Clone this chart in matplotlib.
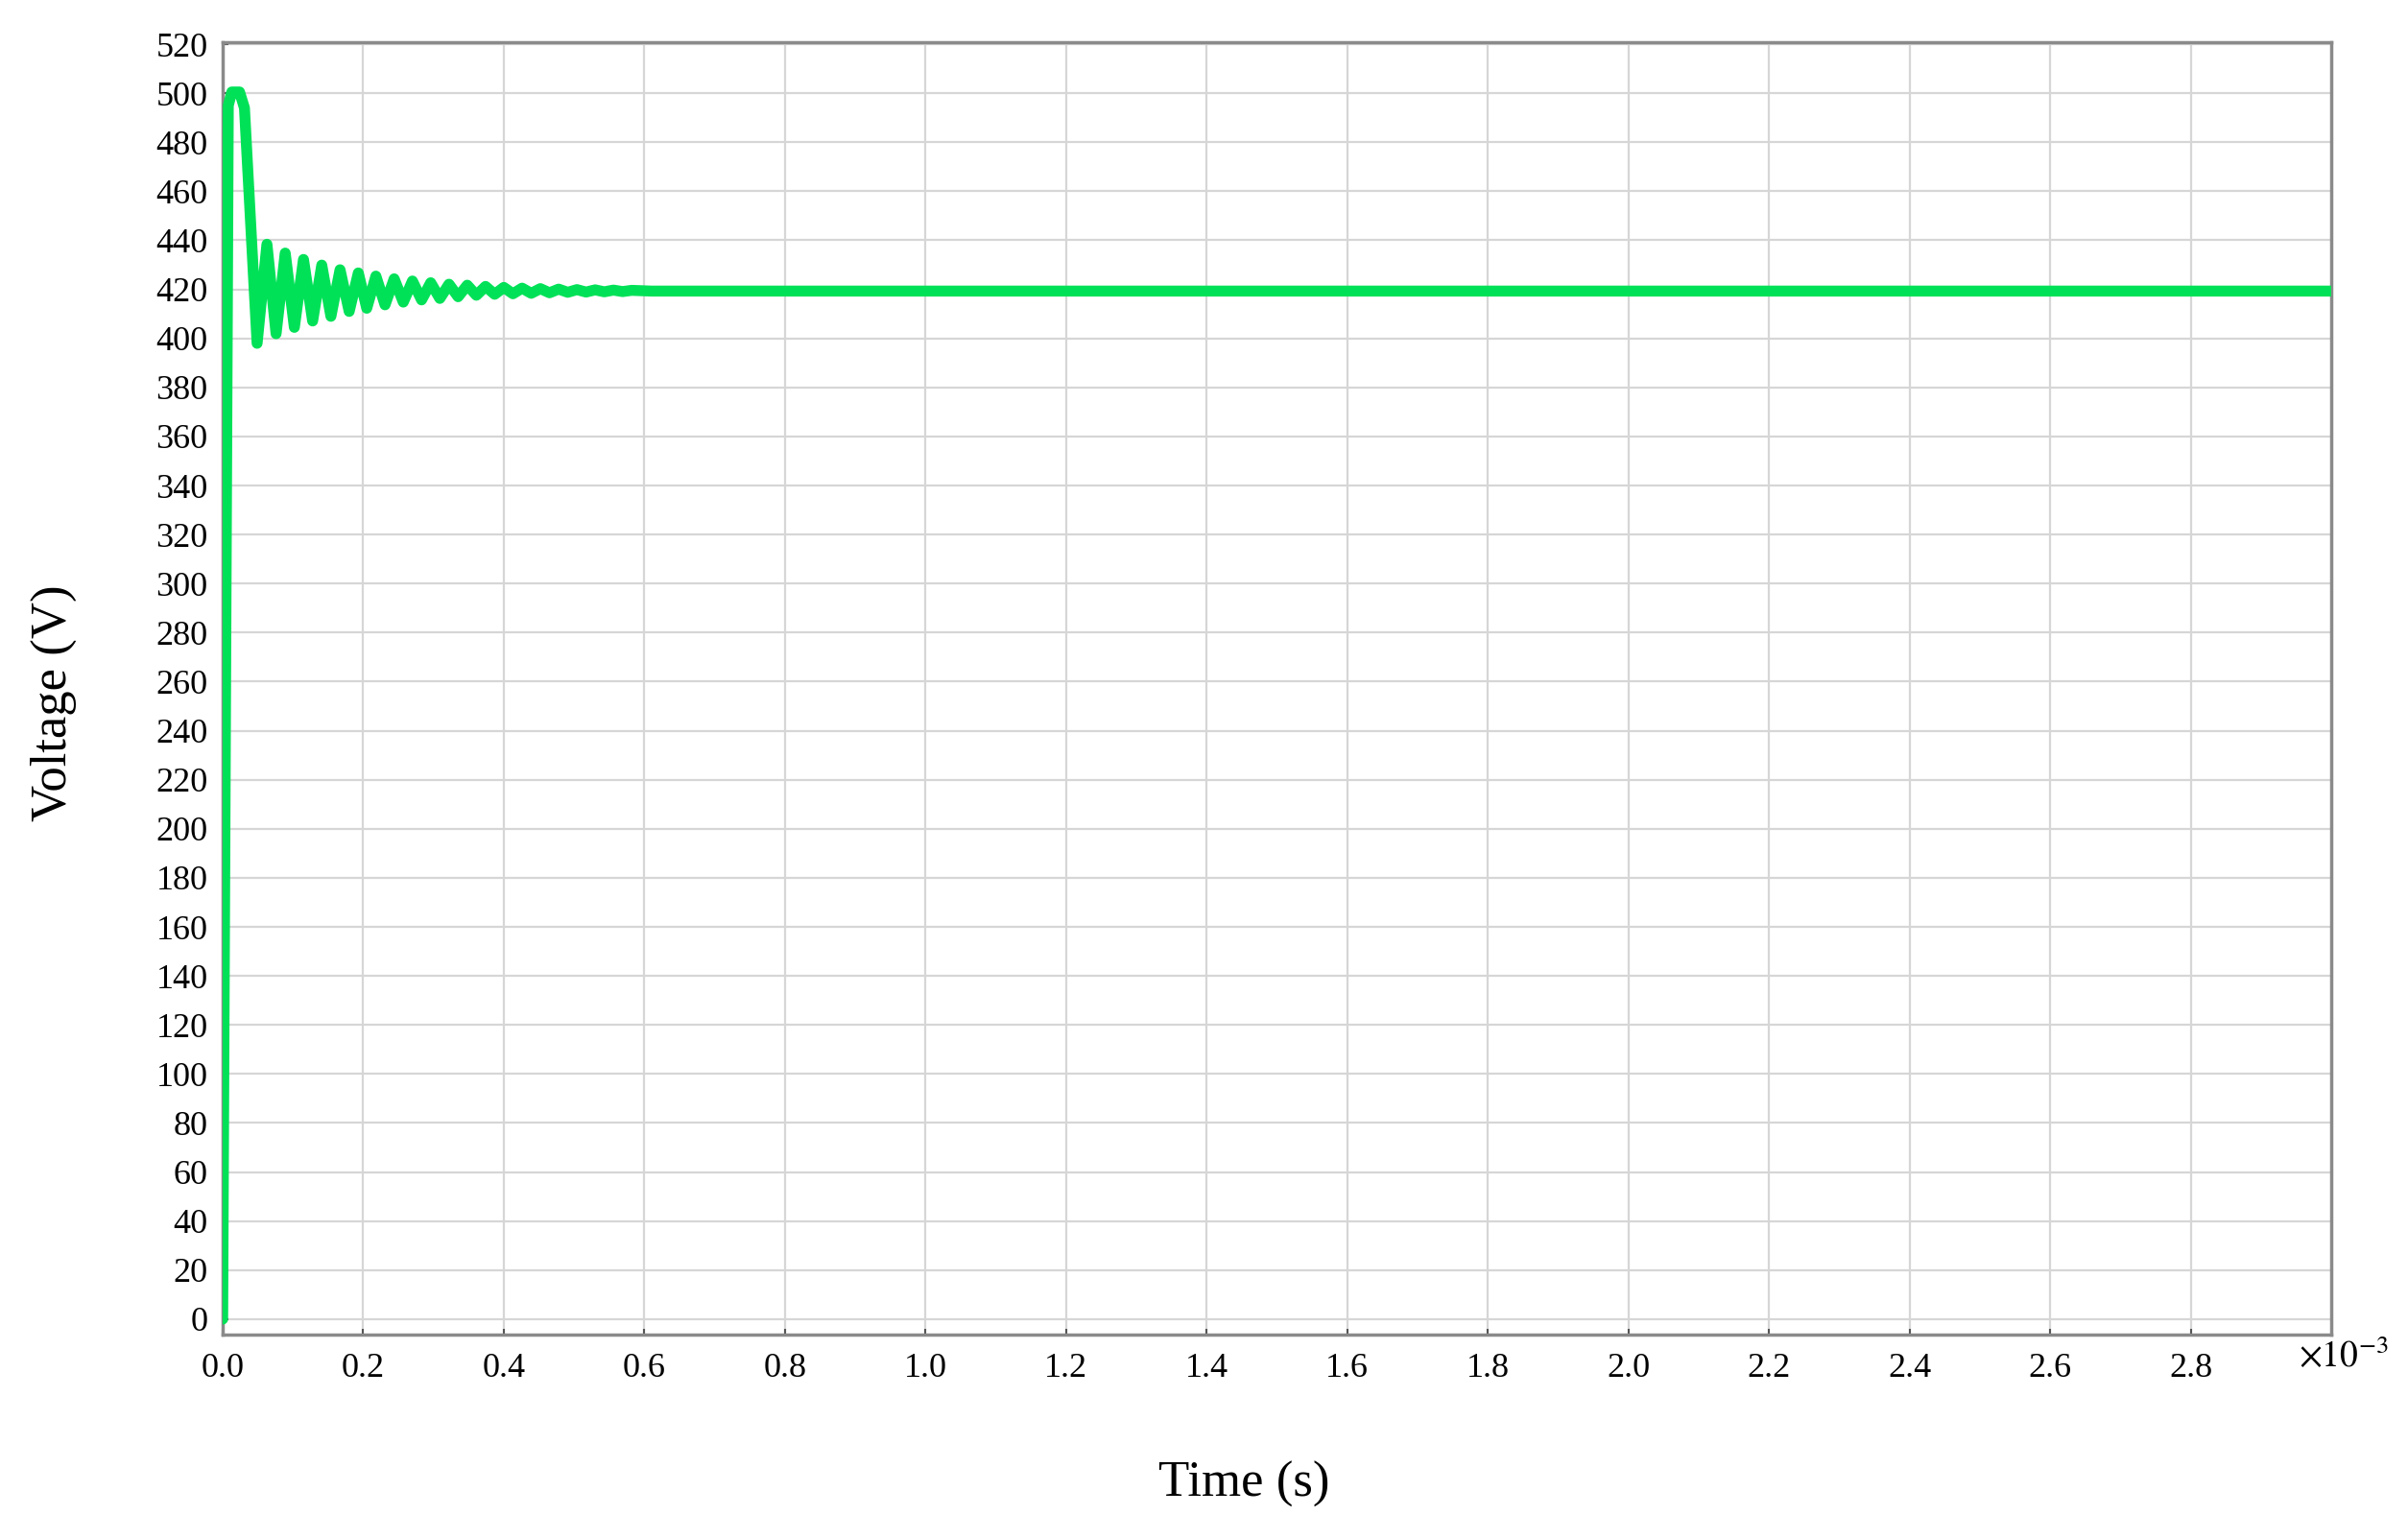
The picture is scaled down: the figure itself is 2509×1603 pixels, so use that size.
import matplotlib
matplotlib.use("Agg")
import matplotlib.pyplot as plt
from matplotlib.ticker import FixedLocator, FuncFormatter

plt.rcParams['font.family'] = ['Liberation Serif', 'DejaVu Serif']
plt.rcParams['mathtext.fontset'] = 'stix'

# Time in milliseconds (axis shown as x10^-3 s), voltage in volts
time_ms = [0.000, 0.008, 0.013, 0.024, 0.031, 0.049,
           0.063, 0.076, 0.089, 0.102, 0.115, 0.128, 0.141, 0.154,
           0.167, 0.180, 0.193, 0.205, 0.218, 0.231, 0.244, 0.257,
           0.270, 0.283, 0.296, 0.309, 0.322, 0.335, 0.348, 0.361,
           0.374, 0.387, 0.400, 0.413, 0.426, 0.439, 0.452, 0.465,
           0.478, 0.491, 0.504, 0.517, 0.530, 0.543, 0.556, 0.569,
           0.582, 0.610, 1.500, 3.000]
voltage = [0.0, 495.0, 500.5, 500.5, 494.0, 398.0,
           438.4, 401.9, 434.8, 404.5, 432.2, 407.1, 429.9, 409.0,
           428.0, 411.0, 426.7, 412.3, 425.4, 413.7, 424.3, 414.8,
           423.4, 415.7, 422.7, 416.3, 422.1, 417.0, 421.7, 417.6,
           421.2, 418.0, 420.8, 418.2, 420.5, 418.4, 420.3, 418.6,
           420.1, 418.8, 419.9, 418.9, 419.8, 419.0, 419.7, 419.1,
           419.6, 419.3, 419.3, 419.3]

x_ticks = [0.0, 0.2, 0.4, 0.6, 0.8, 1.0, 1.2, 1.4, 1.6, 1.8, 2.0, 2.2, 2.4, 2.6, 2.8]
y_ticks = list(range(0, 521, 20))

W, H, DPI = 2509, 1603, 100
fig = plt.figure(figsize=(W / DPI, H / DPI), dpi=DPI)
left, right, top, bottom = 232, 2429, 44, 1391
ax = fig.add_axes([left / W, 1 - bottom / H, (right - left) / W, (bottom - top) / H])

ax.plot(time_ms, voltage, color='#00e157', lw=8.2, solid_joinstyle='round',
        solid_capstyle='round', zorder=3)

ax.set_xlim(0, 3.0)
ax.set_ylim(-6.3, 520.8)
ax.xaxis.set_major_locator(FixedLocator(x_ticks))
ax.yaxis.set_major_locator(FixedLocator(y_ticks))
ax.xaxis.set_major_formatter(FuncFormatter(lambda v, p: f"{v:.1f}"))
ax.yaxis.set_major_formatter(FuncFormatter(lambda v, p: f"{int(round(v))}"))

ax.grid(True, color='#d6d6d6', lw=1.6, zorder=0)
ax.set_axisbelow(True)
for s in ax.spines.values():
    s.set_color('#8a8a8a')
    s.set_linewidth(2.5)

ax.tick_params(axis='both', direction='in', length=4, width=1.5, color='#555555',
               labelsize=26, labelcolor='black')
ax.tick_params(axis='x', pad=14)
ax.tick_params(axis='y', pad=11)

fig.text(2442 / W, 1 - 1414 / H, r'$\times10^{-3}$', fontsize=27, ha='center', va='center')
fig.text(1296 / W, 1 - 1547 / H, 'Time (s)', fontsize=38, ha='center', va='center')
fig.text(56 / W, 1 - 733 / H, 'Voltage (V)', fontsize=38, ha='center', va='center', rotation=90)

fig.savefig('out.png', dpi=DPI)
